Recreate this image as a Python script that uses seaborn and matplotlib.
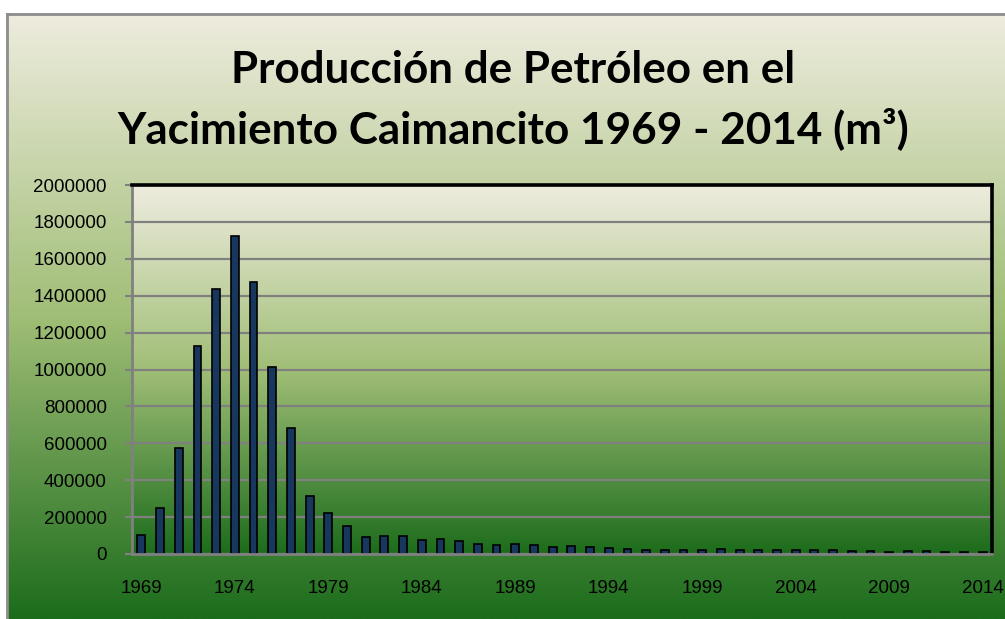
import numpy as np
import pandas as pd
import matplotlib
matplotlib.use("Agg")
import matplotlib.pyplot as plt
import seaborn as sns
from matplotlib.colors import LinearSegmentedColormap
from matplotlib.lines import Line2D

# --- datos ---
anios = list(range(1969, 2015))
produccion = [
    105000, 248000, 575000, 1125000, 1437000, 1722000, 1476000, 1016000, 683000, 312000,
    222000, 152000, 91000, 95000, 96000, 75000, 84000, 71000, 55000, 50000,
    55000, 50000, 37000, 44000, 39000, 32000, 27000, 22000, 22000, 24000,
    22000, 26000, 22000, 22000, 21000, 21000, 21000, 20000, 15000, 15000,
    12000, 15000, 15000, 12000, 11000, 11000,
]
etiquetas_x = [str(a) for a in anios]
ticks_y = [0, 200000, 400000, 600000, 800000, 1000000, 1200000, 1400000, 1600000, 1800000, 2000000]

df = pd.DataFrame({"Anio": etiquetas_x, "Produccion": produccion})

W, H = 1005, 619
fig = plt.figure(figsize=(W / 100, H / 100), dpi=100)
fig.patch.set_facecolor("white")

# degradado crema -> verde oscuro (estilo Excel)
cmap = LinearSegmentedColormap.from_list(
    "verde", [(0.0, "#EEECDE"), (0.5, "#A0BE76"), (1.0, "#1C6C1C")]
)
grad = np.linspace(0, 1, 256).reshape(-1, 1)

# fondo del área del gráfico
bg = fig.add_axes([7 / W, 0, 1 - 7 / W, 1 - 14 / H], zorder=-2)
bg.imshow(grad, aspect="auto", cmap=cmap, extent=[0, 1, 0, 1], origin="upper")
bg.set_axis_off()

# borde gris exterior
fig.add_artist(Line2D([7 / W, 7 / W], [0, 1 - 14 / H], color="#8C8C8C", lw=2, transform=fig.transFigure))
fig.add_artist(Line2D([7 / W, 1], [1 - 14 / H, 1 - 14 / H], color="#8C8C8C", lw=2, transform=fig.transFigure))

# área de trazado
pos = [132 / W, 1 - 554 / H, (992 - 132) / W, (554 - 185) / H]
pbg = fig.add_axes(pos, zorder=-1)
pbg.imshow(grad, aspect="auto", cmap=cmap, extent=[0, 1, 0, 1], origin="upper")
pbg.set_axis_off()

ax = fig.add_axes(pos)
ax.set_facecolor("none")

sns.barplot(
    data=df, x="Anio", y="Produccion",
    color="#17375E", edgecolor="black", linewidth=1.2, width=0.42,
    saturation=1, ax=ax,
)

ax.set_xlim(-0.5, len(anios) - 0.5)
ax.set_ylim(0, 2000000)
ax.set_yticks(ticks_y)
ax.yaxis.set_major_formatter(plt.FuncFormatter(lambda v, p: f"{int(v)}"))
ax.set_xticks(range(0, len(anios), 5))
ax.set_xticklabels(etiquetas_x[::5])
ax.set_xlabel("")
ax.set_ylabel("")

ax.grid(axis="y", color="#808080", linewidth=1.6)
ax.grid(axis="x", visible=False)
ax.set_axisbelow(True)

for lado in ["top", "right"]:
    ax.spines[lado].set_color("black")
    ax.spines[lado].set_linewidth(2.6)
for lado in ["left", "bottom"]:
    ax.spines[lado].set_color("#808080")
    ax.spines[lado].set_linewidth(2)

ax.tick_params(axis="y", length=5, width=1.5, color="#808080", pad=13,
               labelsize=13.5, labelcolor="black")
ax.tick_params(axis="x", length=0, pad=19, labelsize=13.5, labelcolor="black")
for t in ax.get_xticklabels() + ax.get_yticklabels():
    t.set_fontfamily("Liberation Sans")

# título en dos líneas
fig.text(513 / W, 1 - 70 / H, "Producción de Petróleo en el", ha="center", va="center",
         fontsize=31.7, fontweight="bold", family="Lato")
fig.text(513 / W, 1 - 129 / H, "Yacimiento Caimancito 1969 - 2014 (m³)", ha="center", va="center",
         fontsize=31.7, fontweight="bold", family="Lato")

fig.savefig("out.png", dpi=100)
